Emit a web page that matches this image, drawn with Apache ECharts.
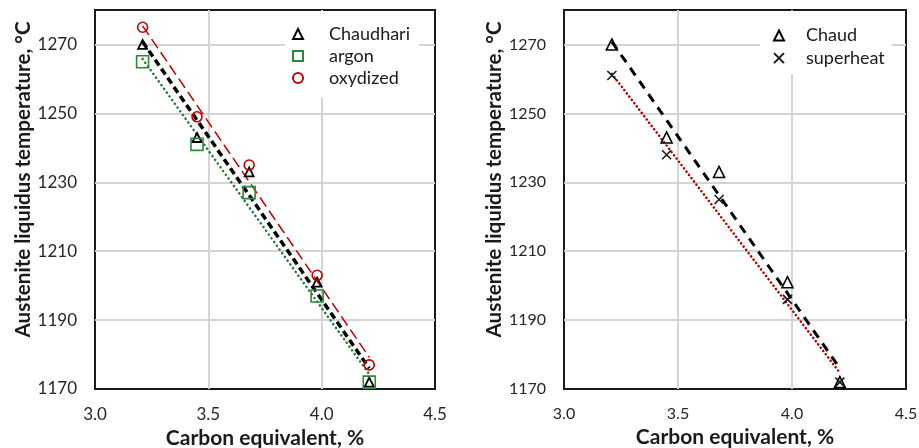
<!DOCTYPE html>
<html>
<head>
<meta charset="utf-8">
<script src="https://cdn.jsdelivr.net/npm/echarts@6/dist/echarts.min.js"></script>
<style>
  html, body { margin: 0; padding: 0; background: #fff; }
  #chart { width: 919px; height: 448px; }
</style>
</head>
<body>
<div id="chart"></div>
<script>
// Carbon equivalent of the five melts (%)
const carbonEquivalent = [3.21, 3.45, 3.68, 3.98, 4.21];

// Austenite liquidus temperature (°C)
const chaudhari = [1270, 1243, 1233, 1201, 1172];
const argon = [1265, 1241, 1227, 1197, 1172];
const oxydized = [1275, 1249, 1235, 1203, 1177];
const superheat = [1261, 1238, 1225, 1196, 1172];

// Linear trend lines: [CE, temperature] at both ends
const chaudhariTrend = [[3.21, 1270.8], [4.21, 1176.0]];
const argonTrend = [[3.21, 1265.8], [4.21, 1174.3]];
const oxydizedTrend = [[3.21, 1275.4], [4.21, 1179.2]];
const superheatTrend = [[3.21, 1261.5], [4.21, 1174.7]];

// Axis ticks
const xTicks = { min: 3.0, max: 4.5, step: 0.5 };
const yTicks = { min: 1170, max: 1280, step: 20 };

const xTitle = 'Carbon equivalent, %';
const yTitle = 'Austenite liquidus temperature, \u00B0C';

const FONT = 'Lato, "Open Sans", sans-serif';

const pairs = (xs, ys) => xs.map((x, i) => [x, ys[i]]);
const crossPath = 'path://M0,0L10,10M10,0L0,10';

function xAxisFor(gridIndex, fontSize) {
  return {
    type: 'value', gridIndex,
    min: xTicks.min, max: xTicks.max, interval: xTicks.step,
    name: xTitle, nameLocation: 'middle', nameGap: 38,
    nameTextStyle: { fontFamily: FONT, fontWeight: 'bold', fontSize: 21, color: '#1a1a1a' },
    axisLine: { show: false }, axisTick: { show: false },
    axisLabel: { margin: 17, fontFamily: FONT, fontSize, color: '#262626',
      formatter: v => v.toFixed(1) },
    splitLine: { show: true, showMinLine: false, showMaxLine: false,
      lineStyle: { color: '#d4d4d4', width: 2 } }
  };
}

function yAxisFor(gridIndex, fontSize, gap) {
  return {
    type: 'value', gridIndex,
    min: yTicks.min, max: yTicks.max, interval: yTicks.step,
    name: yTitle, nameLocation: 'middle', nameGap: gap, nameRotate: 90,
    nameTextStyle: { fontFamily: FONT, fontWeight: 'bold', fontSize: 20.6, color: '#1a1a1a',
      padding: [0, 0, 0, 40] },
    axisLine: { show: false }, axisTick: { show: false },
    axisLabel: { margin: 18, fontFamily: FONT, fontSize, color: '#262626', showMaxLabel: false,
      formatter: v => String(v) },
    splitLine: { show: true, showMinLine: false, showMaxLine: false,
      lineStyle: { color: '#d4d4d4', width: 2 } }
  };
}

function trend(name, data, idx, color, width, type, cap) {
  return {
    name, type: 'line', xAxisIndex: idx, yAxisIndex: idx, data,
    symbol: 'none', silent: true, z: 2,
    lineStyle: { color, width, type, cap: cap || 'butt' }
  };
}

function points(name, data, idx, symbol, size, color, borderWidth) {
  return {
    name, type: 'scatter', xAxisIndex: idx, yAxisIndex: idx, data,
    symbol, symbolSize: size, z: 3,
    itemStyle: { color: 'rgba(255,255,255,0)', borderColor: color, borderWidth, opacity: 1 }
  };
}

const chart = echarts.init(document.getElementById('chart'), null, { renderer: 'canvas' });

const gridBase = {
  top: 10, height: 379, show: true, borderColor: '#1a1a1a', borderWidth: 2,
  backgroundColor: 'transparent', containLabel: false, outerBoundsMode: 'none'
};

chart.setOption({
  animation: false,
  backgroundColor: '#fff',
  grid: [
    Object.assign({ left: 95, width: 340 }, gridBase),
    Object.assign({ left: 564, width: 342 }, gridBase)
  ],
  xAxis: [xAxisFor(0, 17), xAxisFor(1, 16)],
  yAxis: [yAxisFor(0, 17, 47), yAxisFor(1, 16, 44)],
  legend: [
    {
      data: ['Chaudhari', 'argon', 'oxydized'],
      orient: 'vertical', left: 285, top: 11,
      itemWidth: 10, itemHeight: 10, itemGap: 4,
      padding: [14, 9, 11, 7],
      backgroundColor: '#fff',
      textStyle: { fontFamily: FONT, fontSize: 18, color: '#1a1a1a', padding: [0, 0, 0, 21] }
    },
    {
      data: ['Chaud', 'superheat'],
      orient: 'vertical', left: 760, top: 11,
      itemWidth: 10, itemHeight: 10, itemGap: 4.6,
      padding: [15.5, 7, 7, 13],
      backgroundColor: '#fff',
      textStyle: { fontFamily: FONT, fontSize: 18, color: '#1a1a1a', padding: [0, 0, 0, 17] }
    }
  ],
  series: [
    trend('Chaudhari trend', chaudhariTrend, 0, '#000000', 3.5, [7, 4]),
    trend('argon trend', argonTrend, 0, '#1f7a2e', 2.5, [0.1, 4.5], 'round'),
    trend('oxydized trend', oxydizedTrend, 0, '#c00000', 1.5, [11, 5]),
    points('Chaudhari', pairs(carbonEquivalent, chaudhari), 0, 'triangle', 9, '#000000', 1.8),
    points('argon', pairs(carbonEquivalent, argon), 0, 'rect', 12, '#2a8a3a', 1.6),
    points('oxydized', pairs(carbonEquivalent, oxydized), 0, 'circle', 10, '#c00000', 1.6),

    trend('Chaud trend', chaudhariTrend, 1, '#000000', 3, [9, 7]),
    trend('superheat trend', superheatTrend, 1, '#b00000', 2.5, [0.1, 4], 'round'),
    points('Chaud', pairs(carbonEquivalent, chaudhari), 1, 'triangle', 11, '#000000', 1.6),
    points('superheat', pairs(carbonEquivalent, superheat), 1, crossPath, 9, '#1a1a1a', 1.6)
  ]
});
</script>
</body>
</html>
